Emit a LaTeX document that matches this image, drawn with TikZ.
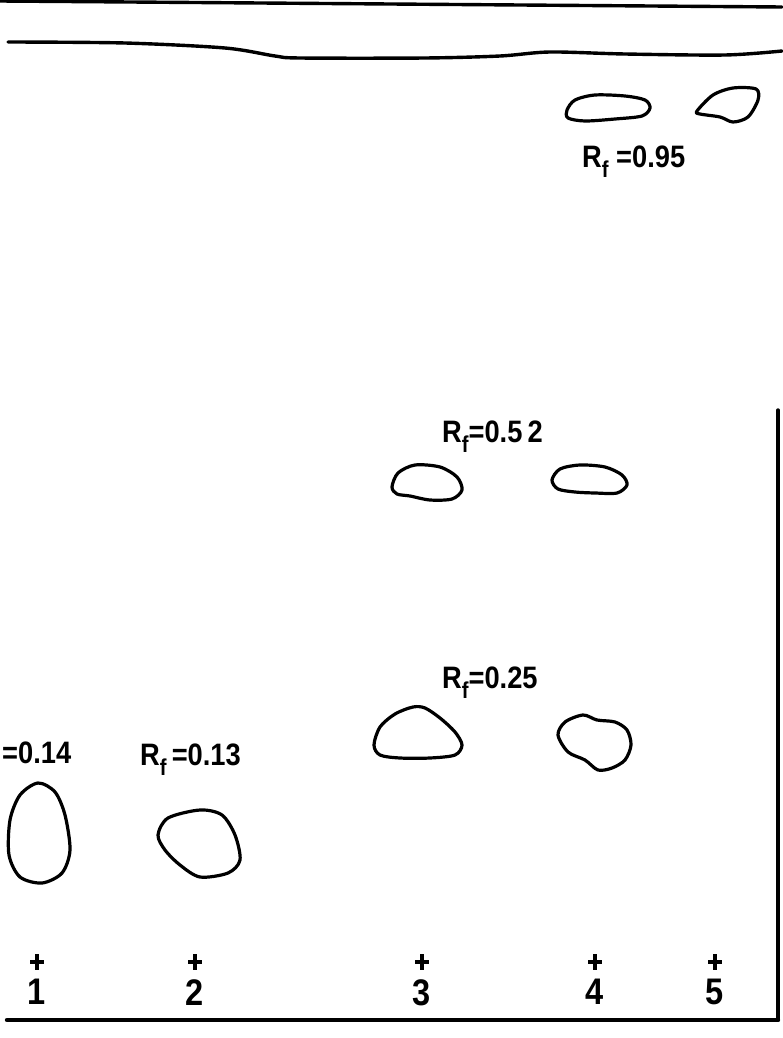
\documentclass[tikz,border=0pt]{standalone}
\usepackage{fontspec}
\setmainfont{Liberation Sans}[FakeStretch=0.88]
\usetikzlibrary{positioning}

\newcommand{\rfsym}{R\raisebox{-0.34em}{\fontsize{23}{23}\selectfont f}}

\begin{document}
\begin{tikzpicture}[
    x=1pt, y=-1pt,
    spot/.style={line width=3.2pt, line join=round},
    edge/.style={line width=3.4pt, line cap=round},
    front/.style={line width=3.4pt, line cap=round},
    origin/.style={line width=3.6pt},
    rflabel/.style={font=\fontsize{31}{32}\selectfont\bfseries, anchor=base west, inner sep=0pt},
    lanenum/.style={font=\fontsize{37}{38}\selectfont\bfseries, inner sep=0pt},
]
    \useasboundingbox (0,0) rectangle (782,1038);

    % =====================================================================
    % PLATE EDGES AND SOLVENT FRONT
    % =====================================================================
    \draw[edge] (0,1) -- (260,3) -- (520,5) -- (782,7);
    \draw[front] plot[smooth] coordinates {(8,42) (125,43) (225,48) (275,56) (300,58)
        (425,58) (500,56) (550,52) (625,54) (725,55) (782,51)};
    \draw[edge, line width=4.4pt] (7,1020) -- (778,1020);
    \draw[edge] (778,410) -- (778,1020);

    % =====================================================================
    % SPOTS
    % =====================================================================
    % Rf = 0.95
    \draw[spot] plot[smooth cycle] coordinates {(567,110) (575,100) (595,95) (625,96)
        (645,100) (650,108) (642,116) (615,119) (585,121) (568,118)};
    \draw[spot] plot[smooth cycle] coordinates {(697,111) (713,95) (733,88) (756,89)
        (758,100) (748,117) (733,122) (720,117) (700,114)};
    % Rf = 0.52
    \draw[spot] plot[smooth cycle] coordinates {(392,487) (398,473) (415,465) (440,467)
        (457,477) (462,490) (452,499) (430,500) (410,496) (397,494)};
    \draw[spot] plot[smooth cycle] coordinates {(552,480) (560,469) (580,465) (605,467)
        (622,475) (627,485) (617,493) (595,493) (575,492) (558,489)};
    % Rf = 0.25
    \draw[spot] plot[smooth cycle] coordinates {(374,745) (380,727) (395,714) (413,707)
        (425,708) (440,718) (455,732) (462,745) (455,755) (430,758) (400,758) (380,755)};
    \draw[spot] plot[smooth cycle] coordinates {(558,735) (565,722) (583,715) (597,720)
        (615,722) (627,730) (631,745) (625,760) (612,768) (598,770) (585,760) (568,752)};
    % Rf = 0.14 and 0.13
    \draw[spot] plot[smooth cycle] coordinates {(10,820) (20,795) (38,783) (55,792)
        (65,815) (70,850) (62,873) (42,883) (20,877) (9,855)};
    \draw[spot] plot[smooth cycle] coordinates {(158,835) (168,818) (200,810) (222,815)
        (235,835) (240,860) (228,873) (200,877) (180,865) (165,850)};

    % =====================================================================
    % RF LABELS
    % =====================================================================
    \node[rflabel] (rf95) at (582,167) {\rfsym\ =0.95};
    \node[rflabel] (rf52) at (442,442) {\rfsym=0.5\,2};
    \node[rflabel] (rf25) at (442,688) {\rfsym=0.25};
    \node[rflabel] (rf13) at (140,765) {\rfsym\,=0.13};
    \node[rflabel] (rf14) at (2,763) {=0.14};

    % =====================================================================
    % ORIGIN MARKS AND LANE NUMBERS
    % =====================================================================
    \foreach \x/\i in {37/1, 195/2, 422/3, 595/4, 715/5} {
        \coordinate (c\i) at (\x,962);
        \draw[origin] ([xshift=-7pt]c\i) -- ([xshift=7pt]c\i);
        \draw[origin] ([yshift=8pt]c\i) -- ([yshift=-8pt]c\i);
        \node[lanenum, below=17pt of c\i] (n\i) {\i};
    }

\end{tikzpicture}
\end{document}
